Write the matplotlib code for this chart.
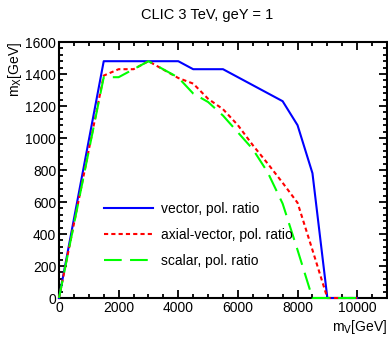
import matplotlib
matplotlib.use("Agg")
import matplotlib.pyplot as plt
from matplotlib.ticker import MultipleLocator

plt.rcParams['font.family'] = ['Liberation Sans', 'DejaVu Sans']

# m_V [GeV] vs reach in m_X [GeV]
vec_x = [0, 1500, 4000, 4500, 5500, 7500, 8000, 8500, 9000, 10000]
vec_y = [0, 1480, 1480, 1430, 1430, 1230, 1080, 780, 0, 0]

axi_x = [0, 1500, 2000, 2500, 3000, 4000, 4500, 5000, 5500, 6000, 6500, 7000, 7500, 8000, 8500, 9000, 10000]
axi_y = [0, 1390, 1430, 1430, 1480, 1375, 1340, 1245, 1180, 1080, 955, 840, 720, 595, 300, 0, 0]

sca_x = [0, 1500, 2000, 3000, 4000, 4500, 5000, 5500, 6000, 6500, 7000, 7500, 8000, 8500, 10000]
sca_y = [0, 1380, 1380, 1480, 1378, 1278, 1225, 1140, 1035, 930, 785, 590, 300, 0, 0]

fig = plt.figure(figsize=(3.88, 3.39), dpi=100)
ax = fig.add_axes([59/388, 41/339, 328/388, 256/339])

ax.plot(vec_x, vec_y, color="#0000ff", lw=1.5, label="vector, pol. ratio", clip_on=False, zorder=3)
ax.plot(axi_x, axi_y, color="#ff0000", lw=1.5, dashes=(2, 1.5), label="axial-vector, pol. ratio",
        clip_on=False, zorder=3)
ax.plot(sca_x, sca_y, color="#00ff00", lw=1.5, dashes=(8.5, 4), label="scalar, pol. ratio",
        clip_on=False, zorder=3)

ax.set_xlim(0, 11000)
ax.set_ylim(0, 1600)
ax.xaxis.set_major_locator(MultipleLocator(2000))
ax.xaxis.set_minor_locator(MultipleLocator(500))
ax.yaxis.set_major_locator(MultipleLocator(200))
ax.yaxis.set_minor_locator(MultipleLocator(40))
ax.tick_params(which="both", direction="in", top=True, right=True, labelsize=10, width=1.3, pad=2)
ax.tick_params(which="major", length=6)
ax.tick_params(which="minor", length=3)
for s in ax.spines.values():
    s.set_linewidth(1.5)
    s.set_zorder(2.5)

ax.legend(loc="lower left", bbox_to_anchor=(0.1, 0.07), frameon=False, fontsize=10,
          handlelength=3.5, handletextpad=0.6, labelspacing=0.85)

fig.text(207/388, 1 - 15/339, "CLIC 3 TeV, geY = 1", ha="center", va="center", fontsize=10.5)
fig.text(387/388, 1 - 327/339, r"m$_{\rm V}$[GeV]", ha="right", va="center", fontsize=10)
fig.text(15/388, 1 - 42/339, r"m$_{\rm X}$[GeV]", ha="center", va="top", rotation=90, fontsize=10)

fig.savefig("out.png", dpi=100)
